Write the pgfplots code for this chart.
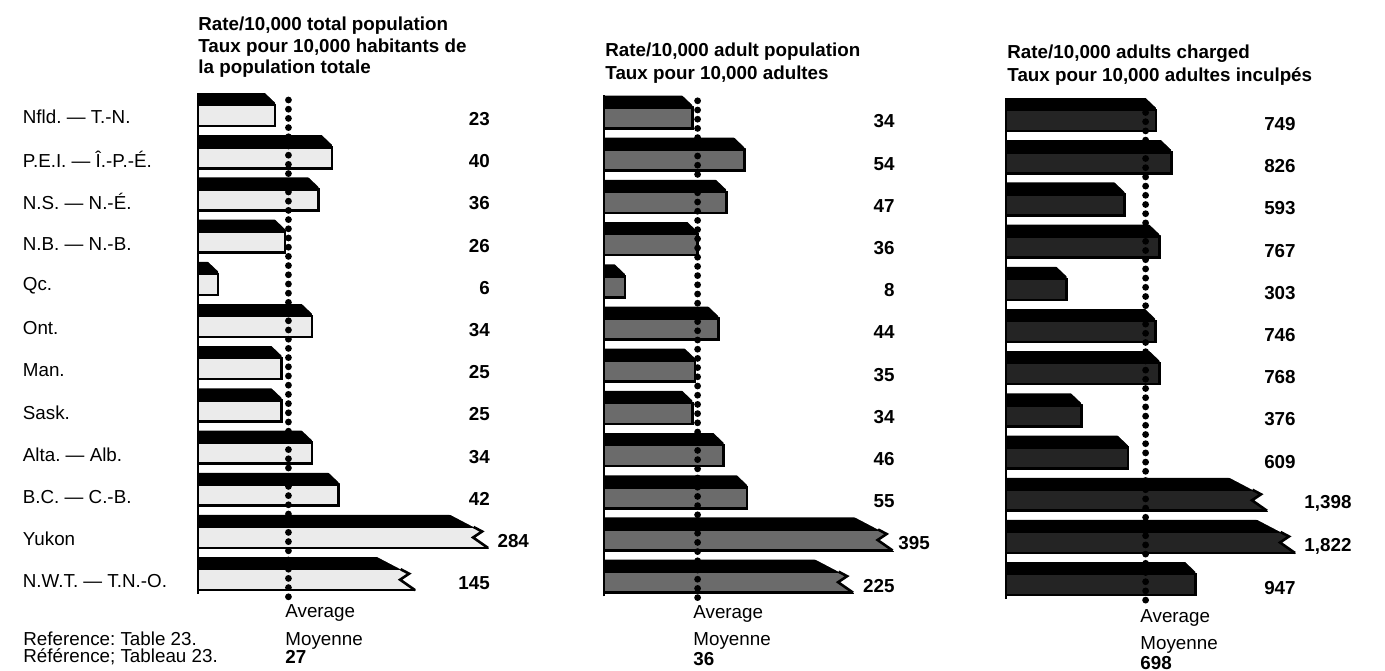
\documentclass[border=0pt]{standalone}
\usepackage{pgfplots}
\usepackage{pgfplotstable}
\pgfplotsset{compat=1.18}
\usepackage{fontspec}
\setmainfont{Liberation Sans}

% white cut at the end of an ordinary bar (slanted top corner)
\pgfdeclareplotmark{endn}{%
  \pgfpathmoveto{\pgfqpoint{-5.4pt}{12.4pt}}%
  \pgfpathlineto{\pgfqpoint{1.8pt}{12.4pt}}%
  \pgfpathlineto{\pgfqpoint{1.8pt}{6.65pt}}%
  \pgfpathlineto{\pgfqpoint{0.65pt}{6.65pt}}%
  \pgfpathclose
  \pgfsetfillcolor{white}%
  \pgfusepathqfill}
% broken (zigzag) end of a truncated bar
\pgfdeclareplotmark{endb}{%
  \pgfpathmoveto{\pgfqpoint{-19.5pt}{12.4pt}}%
  \pgfpathlineto{\pgfqpoint{2pt}{12.4pt}}%
  \pgfpathlineto{\pgfqpoint{2pt}{-5.6pt}}%
  \pgfpathlineto{\pgfqpoint{0pt}{-4.5pt}}%
  \pgfpathlineto{\pgfqpoint{-7.5pt}{0.75pt}}%
  \pgfpathlineto{\pgfqpoint{-3pt}{3.75pt}}%
  \pgfpathclose
  \pgfsetfillcolor{white}%
  \pgfusepathqfill
  \pgfpathmoveto{\pgfqpoint{-7.25pt}{6pt}}%
  \pgfpathlineto{\pgfqpoint{-3pt}{3.75pt}}%
  \pgfpathlineto{\pgfqpoint{-7.5pt}{0.75pt}}%
  \pgfpathlineto{\pgfqpoint{0pt}{-4.5pt}}%
  \pgfsetstrokecolor{black}%
  \pgfsetlinewidth{1.3pt}%
  \pgfsetmiterjoin
  \pgfusepathqstroke}

% y: row (Nfld = 11 ... N.W.T. = 0); val: value; disp: drawn length; brk: broken bar; out: label beside bar end
\pgfplotstableread{
y  val   disp  brk out lab
11 23    23    0   0   23
10 40    40    0   0   40
9  36    36    0   0   36
8  26    26    0   0   26
7  6     6     0   0   6
6  34    34    0   0   34
5  25    25    0   0   25
4  25    25    0   0   25
3  34    34    0   0   34
2  42    42    0   0   42
1  284   86.6  1   1   284
0  145   64.8  1   0   145
}\tabA
\pgfplotstableread{
y  val   disp  brk out lab
11 34    34    0   0   34
10 54    54    0   0   54
9  47    47    0   0   47
8  36    36    0   0   36
7  8     8     0   0   8
6  44    44    0   0   44
5  35    35    0   0   35
4  34    34    0   0   34
3  46    46    0   0   46
2  55    55    0   0   55
1  395   111   1   1   395
0  225   95.8  1   0   225
}\tabB
\pgfplotstableread{
y  val   disp  brk out lab
11 749   749   0   0   749
10 826   826   0   0   826
9  593   593   0   0   593
8  767   767   0   0   767
7  303   303   0   0   303
6  746   746   0   0   746
5  768   768   0   0   768
4  376   376   0   0   376
3  609   609   0   0   609
2  1398  1305  1   1   1,398
1  1822  1445  1   1   1,822
0  947   947   0   0   947
}\tabC

\pgfplotsset{
  rowaxis/.style={anchor=south west, scale only axis, height=257.4pt,
    ymin=-0.6, ymax=11.6, xmin=0, clip=false, clip marker paths=true,
    hide x axis, y axis line style={draw=none}, ytick=\empty},
  face/.style={xbar, bar width=10.5pt, bar shift=0.75pt, draw=black, line width=1.3pt, fill=#1},
  band/.style={xbar, bar width=6pt, bar shift=9pt, fill=black, draw=none},
  lab/.style={draw=none, mark=none, nodes near coords, point meta=explicit symbolic,
    every node near coord/.append style={anchor=#1, inner sep=0pt, font=\bfseries, yshift=-1pt}},
  avg/.style={black, line width=3.4pt, line cap=round, dash pattern=on 0pt off 4.6pt},
  yline/.style={black, line width=1.4pt},
}

\begin{document}
\frenchspacing
\fontsize{9.4pt}{11pt}\selectfont
\begin{tikzpicture}
\useasboundingbox (0,0) rectangle (692.5pt,335pt);

% ---------- panel 1 ----------
\begin{axis}[rowaxis, at={(99pt,31.75pt)}, width=150.75pt, xmax=90,
  ytick={0,...,11},
  yticklabels={N.W.T. — T.N.-O., Yukon, B.C. — C.-B., Alta. — Alb., Sask., Man., Ont., Qc., N.B. — N.-B., N.S. — N.-É., P.E.I. — Î.-P.-É., Nfld. — T.-N.},
  ytick style={draw=none},
  yticklabel style={anchor=west, xshift=-87.75pt, inner xsep=0pt}]
\addplot[face=black!8] table[x=disp, y=y] {\tabA};
\addplot[band] table[x=disp, y=y] {\tabA};
\addplot[only marks, mark=endn, restrict expr to domain={\thisrow{brk}}{-0.5:0.5}] table[x=disp, y=y] {\tabA};
\addplot[only marks, mark=endb, restrict expr to domain={\thisrow{brk}}{0.5:1.5}] table[x=disp, y=y] {\tabA};
\addplot[yline] coordinates {(0,-0.3) (0,11.57)};
\addplot[avg] coordinates {(27,-0.37) (27,11.52)};
\addplot[lab=east, restrict expr to domain={\thisrow{out}}{-0.5:0.5}] table[x expr=87.2, y=y, meta=lab] {\tabA};
\addplot[lab=west, restrict expr to domain={\thisrow{out}}{0.5:1.5}] table[x expr=89.3, y=y, meta=lab] {\tabA};
\end{axis}

% ---------- panel 2 ----------
\begin{axis}[rowaxis, at={(302pt,30.5pt)}, width=156pt, xmax=120]
\addplot[face=black!58] table[x=disp, y=y] {\tabB};
\addplot[band] table[x=disp, y=y] {\tabB};
\addplot[only marks, mark=endn, restrict expr to domain={\thisrow{brk}}{-0.5:0.5}] table[x=disp, y=y] {\tabB};
\addplot[only marks, mark=endb, restrict expr to domain={\thisrow{brk}}{0.5:1.5}] table[x=disp, y=y] {\tabB};
\addplot[yline] coordinates {(0,-0.3) (0,11.57)};
\addplot[avg] coordinates {(36,-0.33) (36,11.5)};
\addplot[lab=east, restrict expr to domain={\thisrow{out}}{-0.5:0.5}] table[x expr=111.9, y=y, meta=lab] {\tabB};
\addplot[lab=west, restrict expr to domain={\thisrow{out}}{0.5:1.5}] table[x expr=113.1, y=y, meta=lab] {\tabB};
\end{axis}

% ---------- panel 3 ----------
\begin{axis}[rowaxis, at={(503pt,29.25pt)}, width=150pt, xmax=1500]
\addplot[face=black!86] table[x=disp, y=y] {\tabC};
\addplot[band] table[x=disp, y=y] {\tabC};
\addplot[only marks, mark=endn, restrict expr to domain={\thisrow{brk}}{-0.5:0.5}] table[x=disp, y=y] {\tabC};
\addplot[only marks, mark=endb, restrict expr to domain={\thisrow{brk}}{0.5:1.5}] table[x=disp, y=y] {\tabC};
\addplot[yline] coordinates {(0,-0.3) (0,11.57)};
\addplot[avg] coordinates {(698,-0.33) (698,11.5)};
\addplot[lab=east, restrict expr to domain={\thisrow{out}}{-0.5:0.5}] table[x expr=1450, y=y, meta=lab] {\tabC};
\addplot[lab=west, restrict expr to domain={\thisrow{out}}{0.5:1.5}] table[x expr=1490, y=y, meta=lab] {\tabC};
\end{axis}

% ---------- titles ----------
\begin{scope}[every node/.style={anchor=base west, inner sep=0pt, font=\bfseries}]
\node at (99pt,319.5pt) {Rate/10,000 total population};
\node at (99pt,308.5pt) {Taux pour 10,000 habitants de};
\node at (99pt,298pt) {la population totale};
\node at (302.5pt,306.5pt) {Rate/10,000 adult population};
\node at (302.5pt,295pt) {Taux pour 10,000 adultes};
\node at (503.5pt,305.75pt) {Rate/10,000 adults charged};
\node at (503.5pt,294.25pt) {Taux pour 10,000 adultes inculpés};
\end{scope}

% ---------- averages and reference ----------
\begin{scope}[every node/.style={anchor=base west, inner sep=0pt}]
\node at (142.5pt,26.5pt) {Average};
\node at (142.5pt,12.5pt) {Moyenne};
\node[font=\bfseries] at (142.5pt,3.5pt) {27};
\node at (346.5pt,26pt) {Average};
\node at (346.5pt,12.5pt) {Moyenne};
\node[font=\bfseries] at (346.5pt,2.5pt) {36};
\node at (570pt,24pt) {Average};
\node at (570pt,10.5pt) {Moyenne};
\node[font=\bfseries] at (570pt,0.5pt) {698};
\node at (11.5pt,12.5pt) {Reference: Table 23.};
\node at (11.5pt,4pt) {Référence; Tableau 23.};
\end{scope}
\end{tikzpicture}
\end{document}
